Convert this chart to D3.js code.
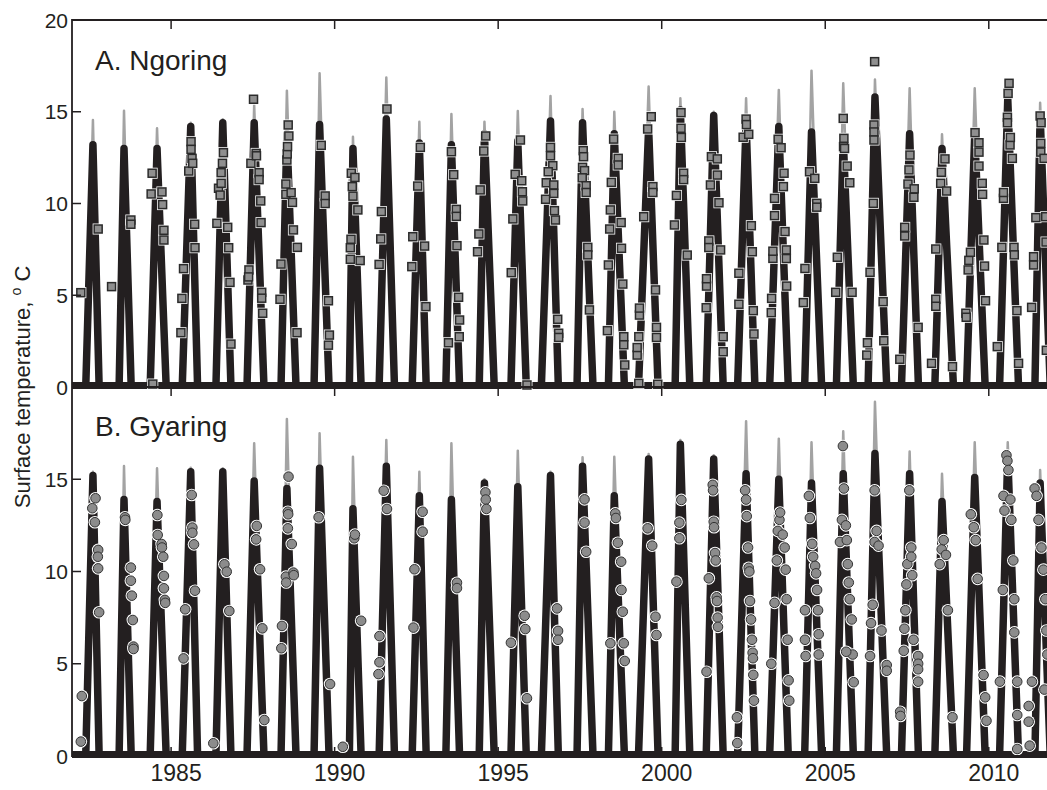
<!DOCTYPE html>
<html>
<head>
<meta charset="utf-8">
<script src="https://cdn.jsdelivr.net/npm/d3@7"></script>
<style>
  body { margin: 0; background: #fff; }
  text { font-family: "Liberation Sans", Arial, sans-serif; fill: #231f20; }
</style>
</head>
<body>
<script>
// years of the record and the timing of each open-water season (fraction of the year)
var years = [1982,1983,1984,1985,1986,1987,1988,1989,1990,1991,1992,1993,1994,1995,1996,
             1997,1998,1999,2000,2001,2002,2003,2004,2005,2006,2007,2008,2009,2010,2011];
var meltFrac   = [.39,.41,.36,.34,.37,.32,.36,.37,.45,.36,.37,.40,.42,.39,.32,.41,.37,.29,.41,.36,.32,.30,.37,.34,.31,.33,.35,.32,.33,.41];
var peakFrac   = [.61,.56,.57,.60,.58,.54,.54,.54,.56,.58,.59,.57,.58,.60,.60,.58,.55,.60,.57,.59,.58,.58,.58,.55,.52,.58,.57,.57,.58,.57];
var freezeFrac = [.80,.78,.85,.81,.83,.84,.82,.83,.81,.83,.80,.82,.88,.86,.84,.90,.86,.89,.86,.88,.85,.87,.89,.86,.88,.85,.92,.89,.91,.88];

// seasonal peak surface temperature, model (black) and alternative run (grey)
var ngoringPeak = [13.2,13.0,13.0,14.2,14.4,14.4,13.8,14.3,13.0,14.6,13.3,13.2,13.8,13.4,14.5,14.4,13.8,14.1,15.1,14.8,14.4,14.2,13.9,13.5,15.8,13.8,13.0,13.8,15.7,14.8];
var ngoringAlt  = [14.55,15.06,14.1,14.4,14.59,15.37,16.15,17.1,13.64,16.87,14.46,14.88,14.46,15.04,15.86,15.15,15.0,16.37,15.73,15.0,15.73,16.19,17.24,16.55,16.76,16.28,13.77,16.28,16.0,15.49];
var gyaringPeak = [15.2,13.9,13.8,15.4,15.4,14.9,14.5,15.6,13.4,15.7,14.1,13.9,14.8,14.6,15.2,15.7,14.1,16.1,16.9,16.1,15.3,15.0,14.8,15.3,16.4,15.3,13.8,15.1,16.3,14.8];
var gyaringAlt  = [15.41,15.72,15.59,15.63,15.59,16.95,18.27,17.49,16.22,17.13,15.41,16.95,15.0,16.55,15.41,16.19,16.22,16.37,17.13,16.3,18.15,17.2,17.0,17.6,19.2,16.5,15.3,17.0,17.0,15.5];

// observed surface temperature [decimal year, degC]
var ngoringObs = [
  [1982.24,5.14],[1982.77,8.61],[1983.18,5.47],[1983.77,9.10],[1983.77,8.87],
  [1984.42,11.65],[1984.39,10.52],[1984.72,10.63],[1984.74,9.94],[1984.78,8.54],[1984.78,8.01],[1984.44,0.16],
  [1985.30,2.96],[1985.33,4.83],[1985.38,6.45],[1985.54,11.77],[1985.61,13.37],[1985.61,12.95],[1985.64,12.46],[1985.66,12.19],[1985.72,8.87],[1985.73,7.59],
  [1986.40,8.92],[1986.45,10.83],[1986.50,10.46],[1986.53,11.10],[1986.53,11.68],[1986.57,12.19],[1986.60,12.77],[1986.73,8.70],[1986.76,7.59],[1986.80,5.70],[1986.83,2.34],
  [1987.35,5.83],[1987.38,6.38],[1987.37,6.0],[1987.44,12.19],[1987.52,15.68],[1987.60,12.73],[1987.61,12.6],[1987.69,11.68],[1987.69,11.3],[1987.74,10.14],[1987.75,8.96],[1987.77,5.16],[1987.77,4.84],[1987.80,4.02],
  [1988.33,4.78],[1988.36,6.70],[1988.51,11.06],[1988.51,10.5],[1988.54,12.37],[1988.55,12.7],[1988.56,13.10],[1988.60,13.68],[1988.58,14.28],[1988.67,10.59],[1988.71,10.06],[1988.74,8.56],[1988.86,7.61],[1988.85,2.96],
  [1989.59,13.17],[1989.71,10.41],[1989.71,10.0],[1989.81,4.70],[1989.84,2.83],[1989.81,2.28],
  [1990.48,6.96],[1990.48,7.59],[1990.50,8.05],[1990.51,11.65],[1990.54,10.92],[1990.56,10.4],[1990.62,11.42],[1990.71,9.65],[1990.78,6.89],
  [1991.36,6.68],[1991.41,8.07],[1991.43,9.56],[1991.60,15.15],
  [1992.54,10.95],[1992.62,13.06],[1992.39,8.19],[1992.36,6.56],[1992.75,7.68],[1992.79,4.38],
  [1993.57,12.82],[1993.64,11.57],[1993.72,9.68],[1993.72,9.3],[1993.74,7.70],[1993.79,4.89],[1993.82,3.65],[1993.81,2.74],[1993.48,2.41],
  [1994.45,10.74],[1994.41,8.34],[1994.37,7.37],[1994.56,12.86],[1994.62,13.68],
  [1995.45,9.16],[1995.40,6.23],[1995.52,11.59],[1995.68,13.46],[1995.72,11.24],[1995.74,10.64],[1995.75,10.14],[1995.88,0.11],
  [1996.60,13.06],[1996.60,12.6],[1996.67,12.06],[1996.53,11.73],[1996.47,11.13],[1996.70,11.01],[1996.70,10.55],[1996.45,10.23],[1996.72,9.61],[1996.75,9.10],[1996.82,3.69],[1996.85,2.93],[1996.85,2.7],
  [1997.60,12.88],[1997.61,12.55],[1997.58,11.97],[1997.64,11.79],[1997.57,11.4],[1997.69,10.97],[1997.69,10.6],[1997.74,7.61],[1997.74,7.2],[1997.79,4.20],
  [1998.53,13.51],[1998.67,12.46],[1998.67,12.1],[1998.46,11.15],[1998.43,9.65],[1998.41,8.61],[1998.37,6.65],[1998.34,3.07],[1998.76,8.96],[1998.77,7.56],[1998.81,5.61],[1998.84,2.74],[1998.84,2.3],[1998.87,1.20],
  [1999.30,0.20],[1999.25,1.74],[1999.25,2.15],[1999.30,2.74],[1999.32,3.92],[1999.32,4.3],[1999.45,9.28],[1999.57,14.06],[1999.68,14.73],[1999.73,10.92],[1999.73,10.6],[1999.81,5.29],[1999.84,3.25],[1999.84,2.7],[1999.88,0.15],
  [2000.59,14.95],[2000.59,14.10],[2000.60,13.6],[2000.45,10.44],[2000.39,8.83],[2000.67,11.65],[2000.67,11.3],[2000.78,7.19],
  [2001.36,4.32],[2001.37,5.50],[2001.37,5.9],[2001.44,7.96],[2001.44,7.6],[2001.52,12.55],[2001.49,11.01],[2001.70,12.43],[2001.70,11.55],[2001.75,10.04],[2001.80,7.47],[2001.88,2.74],[2001.88,1.92],
  [2002.36,4.51],[2002.36,6.20],[2002.49,13.61],[2002.58,14.60],[2002.59,14.3],[2002.66,13.77],[2002.74,8.79],[2002.77,7.37],[2002.80,4.16],[2002.82,2.89],
  [2003.35,4.05],[2003.36,4.83],[2003.40,7.01],[2003.40,7.4],[2003.45,9.34],[2003.45,10.28],[2003.56,13.50],[2003.65,13.04],[2003.74,11.65],[2003.72,10.92],[2003.77,8.47],[2003.81,7.47],[2003.81,7.0],[2003.82,5.50],
  [2004.33,4.60],[2004.38,6.46],[2004.52,11.73],[2004.68,11.37],[2004.74,10.01],[2004.74,9.8],
  [2005.32,5.16],[2005.37,7.07],[2005.55,14.64],[2005.57,13.55],[2005.56,13.1],[2005.59,13.0],[2005.67,12.04],[2005.75,11.13],[2005.82,5.16],
  [2006.37,6.25],[2006.29,2.41],[2006.27,1.74],[2006.47,10.01],[2006.51,17.73],[2006.49,14.28],[2006.49,13.9],[2006.49,13.46],[2006.77,4.65],[2006.79,2.52],
  [2007.28,1.51],[2007.43,8.23],[2007.43,8.7],[2007.53,11.06],[2007.56,11.83],[2007.59,12.64],[2007.71,10.34],[2007.72,10.8],[2007.84,3.25],
  [2008.25,1.29],[2008.38,7.52],[2008.38,4.78],[2008.38,4.4],[2008.53,11.10],[2008.55,11.7],[2008.66,12.43],[2008.71,10.68],[2008.89,1.11],
  [2009.30,4.02],[2009.31,3.8],[2009.37,6.38],[2009.39,6.9],[2009.44,7.34],[2009.58,13.86],[2009.70,13.31],[2009.70,12.8],[2009.70,12.04],[2009.80,11.10],[2009.81,10.5],[2009.85,8.01],[2009.87,6.59],[2009.90,4.70],
  [2010.26,2.20],[2010.40,7.61],[2010.45,10.28],[2010.45,10.6],[2010.57,14.70],[2010.59,16.0],[2010.62,16.55],[2010.57,14.4],[2010.65,13.19],[2010.66,13.6],[2010.72,12.46],[2010.77,7.61],[2010.78,7.2],[2010.86,4.16],[2010.91,1.29],
  [2011.31,4.34],[2011.37,6.65],[2011.37,7.1],[2011.44,9.23],[2011.57,14.77],[2011.60,14.4],[2011.59,13.28],[2011.59,12.8],[2011.69,12.46],[2011.74,9.28],[2011.75,7.9],[2011.76,2.0]
];
var gyaringObs = [
  [1982.24,0.78],[1982.27,3.25],[1982.69,13.97],[1982.59,13.43],[1982.67,12.67],[1982.77,11.17],[1982.76,10.8],[1982.77,10.17],[1982.80,7.79],
  [1983.59,12.94],[1983.60,12.8],[1983.77,10.21],[1983.77,9.5],[1983.80,8.69],[1983.83,7.37],[1983.85,5.93],[1983.85,5.8],
  [1984.58,13.06],[1984.59,11.98],[1984.71,11.49],[1984.72,11.3],[1984.76,10.80],[1984.78,9.76],[1984.78,9.09],[1984.81,8.46],[1984.82,8.3],
  [1985.38,5.29],[1985.43,7.95],[1985.63,14.15],[1985.65,12.38],[1985.65,12.1],[1985.70,11.47],[1985.73,8.96],
  [1986.29,0.69],[1986.63,10.39],[1986.70,9.99],[1986.78,7.86],
  [1987.62,12.47],[1987.60,11.74],[1987.72,10.12],[1987.79,6.92],[1987.85,1.95],
  [1988.39,7.05],[1988.37,5.84],[1988.59,15.14],[1988.57,13.24],[1988.58,13.1],[1988.57,12.34],[1988.69,11.49],[1988.51,9.72],[1988.52,9.4],[1988.74,9.94],[1988.75,9.8],
  [1989.51,12.94],[1989.86,3.90],
  [1990.25,0.50],[1990.60,11.80],[1990.62,12.0],[1990.81,7.33],
  [1991.37,6.50],[1991.37,5.08],[1991.34,4.44],[1991.50,14.38],[1991.60,13.39],
  [1992.44,10.12],[1992.41,6.96],[1992.69,13.24],[1992.69,12.16],
  [1993.74,9.39],[1993.74,9.1],
  [1994.61,14.29],[1994.62,13.9],[1994.64,13.39],
  [1995.39,6.14],[1995.81,7.60],[1995.83,6.88],[1995.88,3.13],
  [1996.80,8.00],[1996.83,6.78],[1996.83,6.3],
  [1997.64,13.91],[1997.64,12.65],[1997.69,11.07],
  [1998.43,6.11],[1998.58,13.15],[1998.60,12.9],[1998.66,11.56],[1998.76,10.53],[1998.77,9.00],[1998.81,7.82],[1998.84,6.11],[1998.87,5.15],
  [1999.57,12.34],[1999.71,11.40],[1999.81,7.55],[1999.84,6.56],
  [2000.45,9.45],[2000.60,13.88],[2000.54,12.65],[2000.54,11.80],
  [2001.37,4.57],[2001.44,9.63],[2001.56,14.7],[2001.57,14.4],[2001.59,12.7],[2001.60,12.4],[2001.63,11.0],[2001.65,10.6],[2001.68,8.6],[2001.69,8.4],[2001.71,7.5],[2001.72,7.0],
  [2002.30,2.1],[2002.31,0.7],[2002.55,14.4],[2002.58,13.9],[2002.60,13.0],[2002.64,11.3],[2002.66,10.2],[2002.68,10.0],[2002.70,8.4],[2002.73,7.4],[2002.76,6.3],[2002.78,5.6],[2002.79,5.3],[2002.80,4.4],[2002.82,3.0],
  [2003.35,5.0],[2003.45,8.3],[2003.52,10.6],[2003.55,12.2],[2003.60,12.8],[2003.62,13.2],[2003.70,12.0],[2003.76,11.3],[2003.79,10.1],[2003.82,8.5],[2003.85,6.3],[2003.88,4.1],[2003.90,3.0],
  [2004.40,5.42],[2004.38,7.9],[2004.38,6.3],[2004.50,14.1],[2004.53,12.9],[2004.60,11.5],[2004.63,10.8],[2004.69,10.3],[2004.72,9.9],[2004.75,9.0],[2004.78,7.9],[2004.80,6.6],[2004.80,5.5],
  [2005.45,11.6],[2005.51,12.8],[2005.54,16.8],[2005.57,14.5],[2005.63,12.5],[2005.66,11.7],[2005.69,10.4],[2005.72,9.4],[2005.75,8.5],[2005.81,7.4],[2005.84,5.5],[2005.87,4.0],[2005.64,5.65],
  [2006.37,5.42],[2006.40,7.2],[2006.45,8.2],[2006.51,11.6],[2006.51,14.4],[2006.57,12.2],[2006.63,11.4],[2006.72,6.8],[2006.88,4.93],[2006.88,4.62],
  [2007.29,2.4],[2007.30,2.17],[2007.40,5.7],[2007.42,6.9],[2007.45,7.9],[2007.48,9.3],[2007.51,10.4],[2007.57,14.4],[2007.63,11.3],[2007.63,10.8],[2007.66,9.8],[2007.70,6.3],[2007.84,5.42],[2007.84,5.0],[2007.84,4.7],[2007.84,4.03],
  [2008.50,10.4],[2008.56,11.2],[2008.62,11.7],[2008.69,10.9],[2008.75,7.9],[2008.89,2.10],
  [2009.45,13.1],[2009.54,12.4],[2009.60,11.7],[2009.66,9.6],[2009.84,4.39],[2009.89,3.18],[2009.93,1.91],
  [2010.34,4.03],[2010.43,9.0],[2010.45,14.1],[2010.48,13.3],[2010.54,16.3],[2010.57,16.0],[2010.60,15.5],[2010.66,13.9],[2010.69,12.8],[2010.75,10.6],[2010.78,8.5],[2010.78,6.7],[2010.87,4.03],[2010.87,2.22],[2010.87,0.38],
  [2011.22,2.71],[2011.22,1.86],[2011.25,0.56],[2011.32,4.03],[2011.40,14.5],[2011.46,14.1],[2011.52,12.8],[2011.61,11.3],[2011.67,10.1],[2011.73,8.5],[2011.76,6.8],[2011.79,5.5],[2011.70,3.6]
];

var yTicksTop = [0, 5, 10, 15, 20];
var yTicksBottom = [0, 5, 10, 15];
var xTicks = [1985, 1990, 1995, 2000, 2005, 2010];

var W = 1047, H = 790;
var left = 72, right = 1047;
var ink = "#231f20";

var svg = d3.select("body").append("svg")
  .attr("width", W)
  .attr("height", H);

var x = d3.scaleLinear().domain([1981.97, 2011.78]).range([left, right]);

var panels = [
  { label: "A. Ngoring", top: 20, bottom: 387, peak: ngoringPeak, alt: ngoringAlt, obs: ngoringObs, marker: "square", ticks: yTicksTop, labelY: 70 },
  { label: "B. Gyaring", top: 387, bottom: 756, peak: gyaringPeak, alt: gyaringAlt, obs: gyaringObs, marker: "circle", ticks: yTicksBottom, labelY: 436 }
];

panels.forEach(function (p, pi) {
  var y = d3.scaleLinear().domain([0, 20]).range([p.bottom, p.top]);
  var g = svg.append("g");

  var clipId = "clip" + pi;
  svg.append("clipPath").attr("id", clipId)
    .append("rect").attr("x", left).attr("y", p.top).attr("width", right - left).attr("height", p.bottom - p.top + 5);

  var plot = g.append("g").attr("clip-path", "url(#" + clipId + ")");

  var seasons = years.map(function (yr, i) {
    return {
      sim: [[yr + meltFrac[i], 0], [yr + peakFrac[i], p.peak[i]], [yr + freezeFrac[i], 0]],
      alt: [[yr + meltFrac[i], 0], [yr + peakFrac[i], Math.max(p.alt[i], p.peak[i])], [yr + freezeFrac[i], 0]]
    };
  });

  var line = d3.line().x(function (d) { return x(d[0]); }).y(function (d) { return y(d[1]); });

  plot.selectAll(".alt").data(seasons).enter().append("path")
    .attr("d", function (d) { return line(d.alt); })
    .attr("fill", "none").attr("stroke", "#a3a3a3").attr("stroke-width", 2.5)
    .attr("stroke-linejoin", "round");

  plot.selectAll(".sim").data(seasons).enter().append("path")
    .attr("d", function (d) { return line(d.sim); })
    .attr("fill", "none").attr("stroke", ink).attr("stroke-width", 7.5)
    .attr("stroke-linejoin", "round");

  // winter: ice-covered, surface at 0
  plot.append("line")
    .attr("x1", left).attr("x2", right)
    .attr("y1", y(0) - 1.5).attr("y2", y(0) - 1.5)
    .attr("stroke", ink).attr("stroke-width", 7);

  // observations
  var obs = g.append("g");
  if (p.marker === "square") {
    obs.selectAll(".halo").data(p.obs).enter().append("rect")
      .attr("x", function (d) { return x(d[0]) - 5.5; })
      .attr("y", function (d) { return y(d[1]) - 5.5; })
      .attr("width", 11).attr("height", 11).attr("fill", "#fff");
    obs.selectAll(".pt").data(p.obs).enter().append("rect")
      .attr("x", function (d) { return x(d[0]) - 4; })
      .attr("y", function (d) { return y(d[1]) - 4; })
      .attr("width", 8).attr("height", 8)
      .attr("fill", "#8f8f8f").attr("stroke", "#2b2b2b").attr("stroke-width", 1.5);
  } else {
    obs.selectAll(".halo").data(p.obs).enter().append("circle")
      .attr("cx", function (d) { return x(d[0]); })
      .attr("cy", function (d) { return y(d[1]); })
      .attr("r", 6.3).attr("fill", "#fff");
    obs.selectAll(".pt").data(p.obs).enter().append("circle")
      .attr("cx", function (d) { return x(d[0]); })
      .attr("cy", function (d) { return y(d[1]); })
      .attr("r", 4.8)
      .attr("fill", "#8c8c8c").attr("stroke", "#333").attr("stroke-width", 1);
  }

  // y axis ticks + labels
  g.selectAll(".yt").data(p.ticks).enter().append("line")
    .attr("x1", left).attr("x2", left + 9)
    .attr("y1", function (d) { return y(d); }).attr("y2", function (d) { return y(d); })
    .attr("stroke", ink).attr("stroke-width", 1.5);
  g.selectAll(".yl").data(p.ticks).enter().append("text")
    .attr("x", left - 4).attr("y", function (d) { return y(d); })
    .attr("dy", "0.36em").attr("text-anchor", "end")
    .style("font-size", "21px")
    .text(function (d) { return d; });

  // x ticks on the upper edge of each panel, pointing down
  g.selectAll(".xt").data(xTicks).enter().append("line")
    .attr("x1", function (d) { return x(d); }).attr("x2", function (d) { return x(d); })
    .attr("y1", p.top).attr("y2", p.top + 9)
    .attr("stroke", ink).attr("stroke-width", 1.5);

  g.append("text")
    .attr("x", 95).attr("y", p.labelY)
    .style("font-size", "28px")
    .text(p.label);
});

// frame
svg.append("line").attr("x1", left).attr("x2", right).attr("y1", 20).attr("y2", 20).attr("stroke", ink).attr("stroke-width", 1.8);
svg.append("line").attr("x1", left).attr("x2", right).attr("y1", 387).attr("y2", 387).attr("stroke", ink).attr("stroke-width", 1.8);
svg.append("line").attr("x1", left).attr("x2", right).attr("y1", 756).attr("y2", 756).attr("stroke", ink).attr("stroke-width", 1.8);
svg.append("line").attr("x1", left).attr("x2", left).attr("y1", 19).attr("y2", 757).attr("stroke", ink).attr("stroke-width", 1.8);

svg.selectAll(".xb").data(xTicks).enter().append("line")
  .attr("x1", function (d) { return x(d); }).attr("x2", function (d) { return x(d); })
  .attr("y1", 756).attr("y2", 747)
  .attr("stroke", ink).attr("stroke-width", 1.5);

svg.selectAll(".xl").data(xTicks).enter().append("text")
  .attr("x", function (d) { return x(d) + 5; })
  .attr("y", 781)
  .attr("text-anchor", "middle")
  .style("font-size", "23px")
  .text(function (d) { return d; });

var yTitle = svg.append("text")
  .attr("transform", "translate(30,387) rotate(-90)")
  .attr("text-anchor", "middle")
  .style("font-size", "22px");
yTitle.append("tspan").text("Surface temperature, ");
yTitle.append("tspan").attr("dy", -9).style("font-size", "14px").text("o");
yTitle.append("tspan").attr("dy", 9).text(" C");
</script>
</body>
</html>
